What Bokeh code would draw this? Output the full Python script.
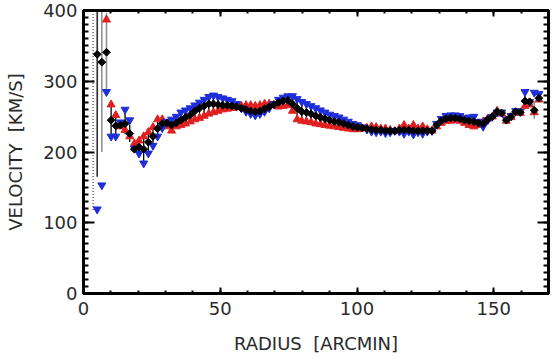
import numpy as np
from bokeh.plotting import figure
from bokeh.models import LinearAxis, SingleIntervalTicker, Range1d, ColumnDataSource
from bokeh.transform import dodge
from bokeh.embed import file_html
from bokeh.resources import INLINE

# ---- data ----
radius = [5.0, 6.7, 8.4, 10.1, 11.8, 13.5, 15.2, 16.9, 18.6, 20.3,
          22.0, 23.7, 25.4, 27.1, 28.8, 30.5, 32.2, 33.9, 35.6, 37.3,
          39.0, 40.7, 42.4, 44.1, 45.8, 47.5, 49.2, 50.9, 52.6, 54.3,
          56.0, 57.7, 59.4, 61.1, 62.8, 64.5, 66.2, 67.9, 69.6, 71.3,
          73.0, 74.7, 76.4, 78.1, 79.8, 81.5, 83.2, 84.9, 86.6, 88.3,
          90.0, 91.7, 93.4, 95.1, 96.8, 98.5, 100.2, 101.9, 103.6, 105.3,
          107.0, 108.7, 110.4, 112.1, 113.8, 115.5, 117.2, 118.9, 120.6, 122.3,
          124.0, 125.7, 127.4, 129.1, 130.8, 132.5, 134.2, 135.9, 137.6, 139.3,
          141.0, 142.7, 144.4, 146.1, 147.8, 149.5, 151.2, 152.9, 154.6, 156.3,
          158.0, 159.7, 161.4, 163.1, 164.8, 166.5]

v_mean = [338, 327, 341, 245, 237, 238, 240, 226, 204, 207,
          204, 214, 222, 233, 240, 241, 238, 241, 245, 249,
          252, 258, 262, 265, 268, 268, 267, 266, 266, 265,
          264, 262, 260, 258, 257, 258, 261, 264, 267, 270,
          272, 273, 268, 262, 257, 256, 254, 251, 249, 247,
          245, 243, 242, 240, 238, 236, 235, 234, 233, 232,
          231, 231, 230, 230, 230, 231, 231, 231, 230, 230,
          230, 230, 230, 238, 244, 247, 248, 248, 247, 245,
          244, 243, 241, 240, 246, 250, 257, 255, 245, 250,
          257, 256, 272, 271, 259, 276]

v_err = [173, 127, 55, 22, 15, 3, 15, 12, 4, 9,
         19, 15, 13, 12, 6, 4, 8, 7, 9, 10,
         10, 10, 11, 12, 12, 12, 10, 8, 7, 5,
         3, 2, 5, 6, 7, 6, 6, 3, 2, 5,
         6, 7, 11, 15, 14, 13, 12, 11, 10, 9,
         8, 8, 7, 6, 5, 4, 3, 2, 2, 4,
         4, 2, 3, 2, 2, 2, 6, 2, 7, 3,
         5, 2, 2, 2, 3, 4, 4, 4, 4, 4,
         6, 7, 3, 4, 2, 2, 2, 2, 2, 2,
         2, 2, 10, 5, 12, 4]

v_red = [557, 501, 387, 267, 252, 236, 231, 222, 212, 216,
         222, 228, 235, 246, 246, 236, 230, 236, 238, 240,
         243, 246, 248, 251, 254, 256, 258, 260, 261, 262,
         263, 265, 266, 266, 265, 266, 268, 268, 266, 264,
         265, 266, 258, 246, 244, 243, 242, 240, 239, 238,
         237, 236, 235, 234, 233, 232, 232, 233, 234, 236,
         235, 233, 233, 231, 229, 233, 238, 233, 238, 233,
         236, 232, 230, 236, 241, 244, 244, 245, 244, 241,
         238, 236, 238, 243, 247, 250, 258, 254, 244, 249,
         256, 255, 265, 267, 256, 274]

v_blue = [119, 153, 285, 222, 222, 242, 260, 245, 205, 198,
          184, 198, 209, 222, 234, 243, 246, 250, 256, 259,
          262, 266, 270, 274, 278, 280, 278, 276, 274, 272,
          268, 262, 257, 254, 252, 254, 257, 262, 268, 274,
          277, 279, 279, 275, 271, 268, 265, 262, 259, 256,
          253, 251, 249, 246, 243, 240, 238, 235, 232, 229,
          228, 229, 227, 228, 230, 229, 226, 229, 225, 228,
          226, 229, 230, 240, 247, 251, 252, 252, 251, 248,
          249, 250, 243, 236, 245, 250, 256, 256, 246, 251,
          258, 257, 285, 271, 284, 282]

# errors of the approaching side for the two innermost rings
red_err_inner = [439, 241]
grey_bars = [1, 2, 94]

x_ticks_major = 50
y_ticks_major = 100
y_top = 400

# ---- sources ----
r = np.array(radius, dtype=float)
vm = np.array(v_mean, dtype=float)
ve = np.array(v_err, dtype=float)
black_idx = [i for i in range(len(r)) if i not in grey_bars]

src_bars_k = ColumnDataSource(dict(x=r[black_idx], y0=(vm - ve)[black_idx], y1=(vm + ve)[black_idx]))
src_bars_g = ColumnDataSource(dict(x=r[grey_bars], y0=(vm - ve)[grey_bars], y1=(vm + ve)[grey_bars]))
n_in = len(red_err_inner)
rr = np.array(v_red[:n_in], dtype=float)
re = np.array(red_err_inner, dtype=float)
src_dot = ColumnDataSource(dict(x=r[:n_in], y0=rr - re, y1=rr + re))
src = ColumnDataSource(dict(x=r, mean=vm, red=v_red, blue=v_blue))

FONT = "DejaVu Sans"
TXT = "#2a2a2a"
FS = "18px"

p = figure(width=560, height=360,
           x_range=Range1d(0, 170), y_range=Range1d(0, y_top),
           output_backend="svg", toolbar_location=None,
           min_border_left=83, min_border_right=12, min_border_top=10, min_border_bottom=67)
p.xgrid.visible = False
p.ygrid.visible = False
p.outline_line_color = "black"
p.outline_line_width = 3
p.background_fill_color = "white"
p.border_fill_color = "white"

# error bars
p.segment(x0="x", y0="y0", x1="x", y1="y1", source=src_bars_k, line_color="black", line_width=1.3)
p.segment(x0="x", y0="y0", x1="x", y1="y1", source=src_bars_g, line_color="#8a8a8a", line_width=1.5)
p.segment(x0=dodge("x", -1.5), y0="y0", x1=dodge("x", -1.5), y1="y1", source=src_dot,
          line_color="#444444", line_width=1.2, line_dash="1 2")

# points
p.scatter("x", "red", source=src, marker="triangle", size=8, fill_color="#e02020", line_color="#e02020")
p.scatter("x", "blue", source=src, marker="inverted_triangle", size=8, fill_color="#1e2ed8", line_color="#1e2ed8")
p.scatter("x", "mean", source=src, marker="square", angle=np.pi / 4, size=5.5,
          fill_color="black", line_color="black")

def style_axis(ax, tick_in, minor_in, labels=True):
    ax.axis_line_width = 3
    ax.axis_line_color = "black"
    ax.major_tick_in = tick_in
    ax.major_tick_out = 0
    ax.minor_tick_in = minor_in
    ax.minor_tick_out = 0
    ax.major_tick_line_width = 2
    ax.minor_tick_line_width = 2
    ax.major_tick_line_color = "black"
    ax.minor_tick_line_color = "black"
    if labels:
        ax.major_label_text_font = FONT
        ax.major_label_text_font_size = FS
        ax.major_label_text_color = TXT
        ax.axis_label_text_font = FONT
        ax.axis_label_text_font_size = FS
        ax.axis_label_text_font_style = "normal"
        ax.axis_label_text_color = TXT
    else:
        ax.major_label_text_font_size = "0px"
        ax.major_label_standoff = 0
        ax.major_label_text_color = None

xt = SingleIntervalTicker(interval=x_ticks_major, num_minor_ticks=5)
yt = SingleIntervalTicker(interval=y_ticks_major, num_minor_ticks=10)

xa = p.xaxis[0]
xa.ticker = xt
xa.axis_label = "RADIUS\u00a0\u00a0[ARCMIN]"
style_axis(xa, 6, 3)
xa.major_label_standoff = 8
xa.axis_label_standoff = 15

ya = p.yaxis[0]
ya.ticker = yt
ya.axis_label = "VELOCITY\u00a0\u00a0[KM/S]"
style_axis(ya, 11, 5)
ya.major_label_standoff = 6
ya.axis_label_standoff = 14

top = LinearAxis(ticker=SingleIntervalTicker(interval=x_ticks_major, num_minor_ticks=5))
style_axis(top, 6, 3, labels=False)
p.add_layout(top, "above")
right = LinearAxis(ticker=SingleIntervalTicker(interval=y_ticks_major, num_minor_ticks=10))
style_axis(right, 11, 5, labels=False)
p.add_layout(right, "right")

open("out.html", "w").write(file_html(p, INLINE))
